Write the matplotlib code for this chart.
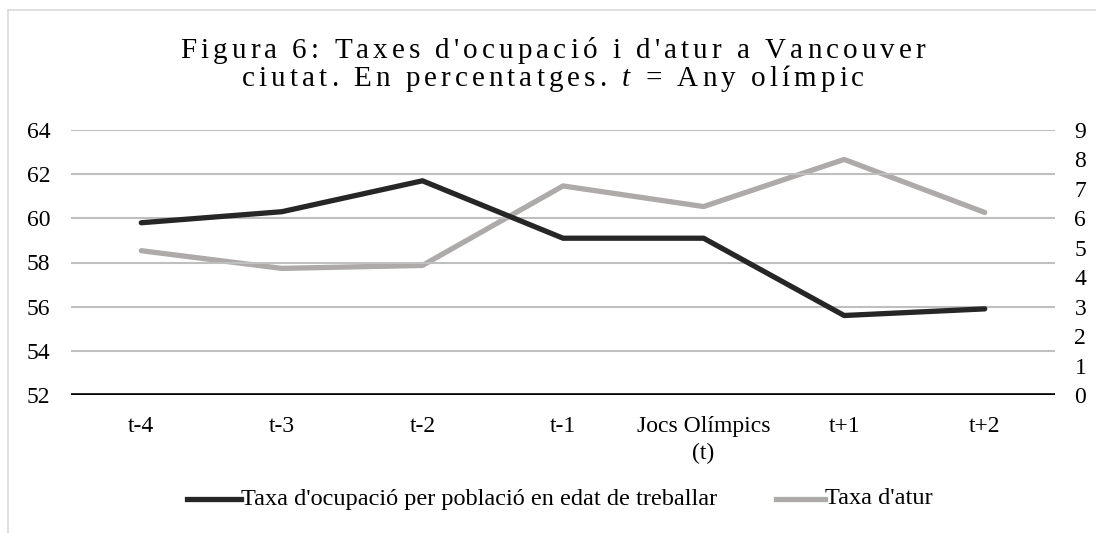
import matplotlib
matplotlib.use("Agg")
import matplotlib.pyplot as plt
from matplotlib.lines import Line2D

plt.rcParams['font.family'] = ['Liberation Serif', 'DejaVu Serif']

categories = ["t-4", "t-3", "t-2", "t-1", "Jocs Olímpics\n(t)", "t+1", "t+2"]
ocupacio = [59.8, 60.3, 61.7, 59.1, 59.1, 55.6, 55.9]
atur = [4.9, 4.3, 4.4, 7.1, 6.4, 8.0, 6.2]
left_ticks = [52, 54, 56, 58, 60, 62, 64]
right_ticks = [0, 1, 2, 3, 4, 5, 6, 7, 8, 9]
label_ocup = "Taxa d'ocupació per població en edat de treballar"
label_atur = "Taxa d'atur"
title_line1 = "Figura 6: Taxes d'ocupació i d'atur a Vancouver"
title_line2 = [("ciutat. En percentatges. ", "normal"), ("t", "italic"), (" = Any olímpic", "normal")]

DARK = "#262626"
GRAY = "#AEAAAA"
GRID = "#BFBFBF"
FS = 17

W, H = 1096, 533
fig = plt.figure(figsize=(W / 100, H / 100), dpi=100)
fig.patch.set_facecolor("white")
renderer = fig.canvas.get_renderer()

# outer border
fig.add_artist(Line2D([8 / W, 8 / W], [0, 1 - 10 / H], color="#D9D9D9", lw=1.2, transform=fig.transFigure))
fig.add_artist(Line2D([8 / W, 1], [1 - 10 / H, 1 - 10 / H], color="#D9D9D9", lw=1.2, transform=fig.transFigure))

ax = fig.add_axes([71 / W, 1 - 395 / H, (1055 - 71) / W, (395 - 130) / H])
ax2 = ax.twinx()

x = list(range(len(categories)))
ax.set_xlim(-0.5, len(categories) - 0.5)
ax.set_ylim(52, 64)
ax2.set_ylim(0, 9)

for v in left_ticks[1:]:
    ax.axhline(v, color=GRID, lw=1.5, zorder=1)
ax.axhline(52, color="black", lw=2.6, zorder=3)

ax.plot(x, ocupacio, color=DARK, lw=3.8, solid_capstyle="round", solid_joinstyle="round", zorder=4)
ax2.plot(x, atur, color=GRAY, lw=3.8, solid_capstyle="round", solid_joinstyle="round", zorder=4)
ax.set_zorder(ax2.get_zorder() + 1)
ax.patch.set_visible(False)

ax.set_yticks(left_ticks)
ax2.set_yticks(right_ticks)
ax.set_xticks(x)
ax.set_xticklabels(categories, fontsize=FS, linespacing=1.4)
ax.tick_params(axis="y", length=0, labelsize=FS, pad=15)
ax2.tick_params(axis="y", length=0, labelsize=FS, pad=14)
ax.tick_params(axis="x", length=0, pad=15)
for a in (ax, ax2):
    for s in a.spines.values():
        s.set_visible(False)


# letter-spaced title, placed character by character
def char_width(c, size, style):
    t1 = fig.text(0, 0, "|" + c + "|", fontsize=size, style=style)
    t2 = fig.text(0, 0, "||", fontsize=size, style=style)
    w = t1.get_window_extent(renderer).width - t2.get_window_extent(renderer).width
    t1.remove()
    t2.remove()
    return w


def spaced_line(parts, size, tracking, xc, yb):
    chars = [(c, st) for s, st in parts for c in s]
    widths = [char_width(c, size, st) for c, st in chars]
    total = sum(widths) + tracking * (len(chars) - 1)
    xpos = xc - total / 2
    for (c, st), w in zip(chars, widths):
        if c != " ":
            fig.text(xpos / W, 1 - yb / H, c, fontsize=size, style=st, ha="left", va="baseline")
        xpos += w + tracking


TFS = 21
parts1 = [(title_line1, "normal")]
base_w = sum(char_width(c, TFS, "normal") for c in title_line1)
tracking = (745 - base_w) / (len(title_line1) - 1)
spaced_line(parts1, TFS, tracking, 553, 58)
spaced_line(title_line2, TFS, tracking, 553, 86)

# legend (manual layout)
yl = 1 - 499 / H
fig.add_artist(Line2D([187 / W, 241 / W], [yl, yl], color=DARK, lw=3.8, transform=fig.transFigure))
fig.text(241 / W, yl, label_ocup, fontsize=17.5, ha="left", va="center")
fig.add_artist(Line2D([776 / W, 825 / W], [yl, yl], color=GRAY, lw=3.8, transform=fig.transFigure))
fig.text(825 / W, yl, label_atur, fontsize=17.5, ha="left", va="center")

fig.savefig("out.png", dpi=100)
